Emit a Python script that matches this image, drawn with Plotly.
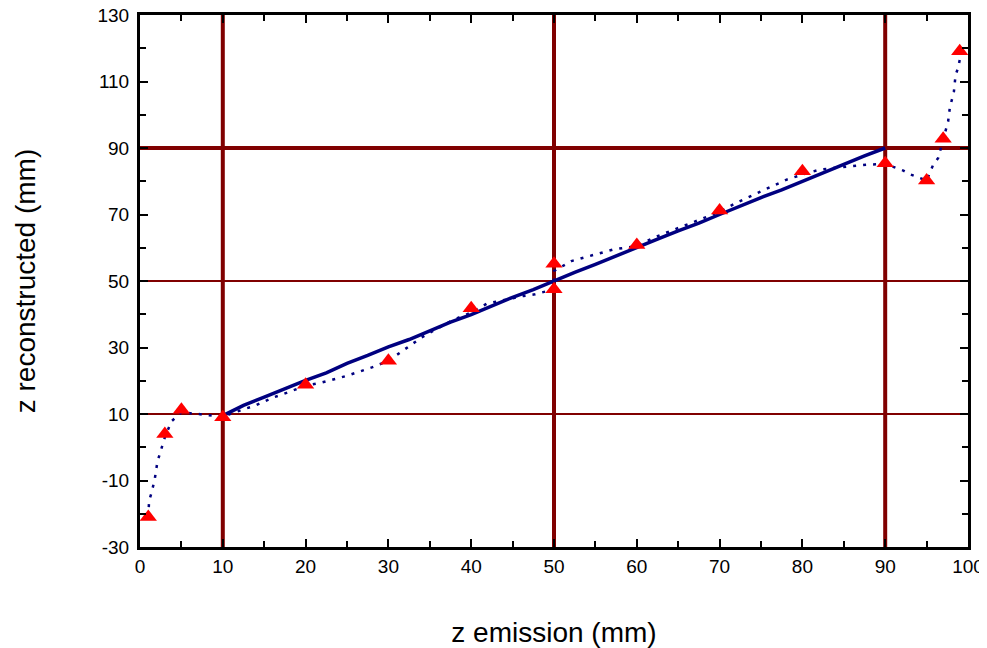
import plotly.graph_objects as go

# Marker samples (red triangles)
tri_x = [1, 3, 5, 10, 20, 30, 40, 50, 50, 60, 70, 80, 90, 95, 97, 99]
tri_y = [-21, 4, 11.3, 9, 18.8, 26, 41.8, 55.2, 47.5, 60.8, 71.2, 83, 85.4, 80.2, 92.8, 119.1]

# Dotted reconstructed curve
dot_x = [1, 1.1, 1.4, 1.8, 2.1, 2.4, 3, 3.8, 5, 7, 7.8, 10, 12.7, 13.9, 16.1, 17.1, 20,
         22, 25, 28, 30, 31.6, 34, 37.2, 38, 40, 41.9, 43.1, 46.3, 47.7, 50, 50, 52.1, 57.2,
         60, 62, 65.6, 70, 72, 76.5, 78.1, 80, 82.1, 85.7, 88, 90, 92.2, 93, 95, 95.8, 96.4,
         97, 97.6, 97.8, 98.1, 98.3, 98.5, 98.8, 99.2]
dot_y = [-21, -16, -13.7, -9.3, -4.4, -2.1, 3, 7.8, 10.5, 10, 9.8, 9.2, 11.6, 12.5, 15, 15.8, 18.5,
         19.5, 21.5, 24, 26, 28.7, 33, 37.5, 38.5, 40.5, 43.2, 43.8, 45.5, 46, 47.5, 53, 56, 59.5,
         60.5, 63, 66.5, 70.8, 73.5, 78.5, 80.5, 82, 83.5, 84.5, 85, 85.2, 83.2, 82.1, 80.2, 85, 87,
         92.5, 98, 102, 104.7, 107, 112, 114, 119]

# Solid ideal line
sol_x = [10, 12.5, 15, 17.5, 20, 22.5, 25, 27.5, 30, 32.5, 35, 37.5, 40, 42.5, 45, 47.5, 50,
         52.5, 55, 57.5, 60, 62.5, 65, 67.5, 70, 72.5, 75, 77.5, 80, 82.5, 85, 87.5, 90]
sol_y = [9.5, 12.6, 15.1, 17.7, 20.1, 22.4, 25.2, 27.6, 30.2, 32.4, 35.1, 37.6, 39.9, 42.6, 45.1, 47.4, 50.1,
         52.6, 55.0, 57.6, 60.0, 62.6, 65.1, 67.4, 70.0, 72.6, 75.1, 77.4, 80.0, 82.6, 85.0, 87.6, 90]

# Reference lines
vlines = [10, 50, 90]
hlines = [10, 50, 90]
hline_widths = [2, 2, 4]

x_ticks = [0, 10, 20, 30, 40, 50, 60, 70, 80, 90, 100]
y_ticks = [-30, -10, 10, 30, 50, 70, 90, 110, 130]

RED = "#800000"
NAVY = "#000080"

fig = go.Figure()

shapes = []
for v in vlines:
    shapes.append(dict(type="line", xref="x", yref="paper", x0=v, x1=v, y0=0, y1=1,
                       line=dict(color=RED, width=4), layer="below"))
for h, w in zip(hlines, hline_widths):
    shapes.append(dict(type="line", xref="paper", yref="y", x0=0, x1=1, y0=h, y1=h,
                       line=dict(color=RED, width=w), layer="below"))

fig.add_trace(go.Scatter(x=sol_x, y=sol_y, mode="lines",
                         line=dict(color=NAVY, width=3.5), showlegend=False))
fig.add_trace(go.Scatter(x=dot_x, y=dot_y, mode="lines",
                         line=dict(color=NAVY, width=2.5, dash="3px,7px"), showlegend=False))
fig.add_trace(go.Scatter(x=tri_x, y=tri_y, mode="markers",
                         marker=dict(symbol="triangle-up", color="#ff0000", size=15,
                                     line=dict(width=0)), showlegend=False))

font = "Liberation Sans, Arial, sans-serif"
fig.update_layout(
    width=979, height=640,
    margin=dict(l=132, r=19, t=7, b=101),
    paper_bgcolor="white", plot_bgcolor="white",
    shapes=shapes,
    font=dict(family=font, color="black", size=19),
    xaxis=dict(range=[0, 100], tickvals=x_ticks, ticktext=[str(v) for v in x_ticks],
               ticks="inside", ticklen=8, tickwidth=2, tickcolor="black",
               minor=dict(dtick=5, tick0=0, ticks="inside", ticklen=6, tickwidth=2, tickcolor="black"),
               showline=True, linewidth=3, linecolor="black", mirror="ticks",
               showgrid=False, zeroline=False, automargin=False, ticklabeloverflow="allow",
               tickfont=dict(size=19), ticklabelstandoff=0,
               title=dict(text="z emission (mm)", font=dict(size=28), standoff=56)),
    yaxis=dict(range=[-30, 130], tickvals=y_ticks, ticktext=[str(v) for v in y_ticks],
               ticks="inside", ticklen=8, tickwidth=2, tickcolor="black",
               minor=dict(dtick=10, tick0=-30, ticks="inside", ticklen=6, tickwidth=2, tickcolor="black"),
               showline=True, linewidth=3, linecolor="black", mirror="ticks",
               showgrid=False, zeroline=False, automargin=False, ticklabeloverflow="allow",
               tickfont=dict(size=19), ticklabelstandoff=4,
               title=dict(text="z reconstructed (mm)", font=dict(size=28), standoff=54)),
)

fig.write_html("out.html")
